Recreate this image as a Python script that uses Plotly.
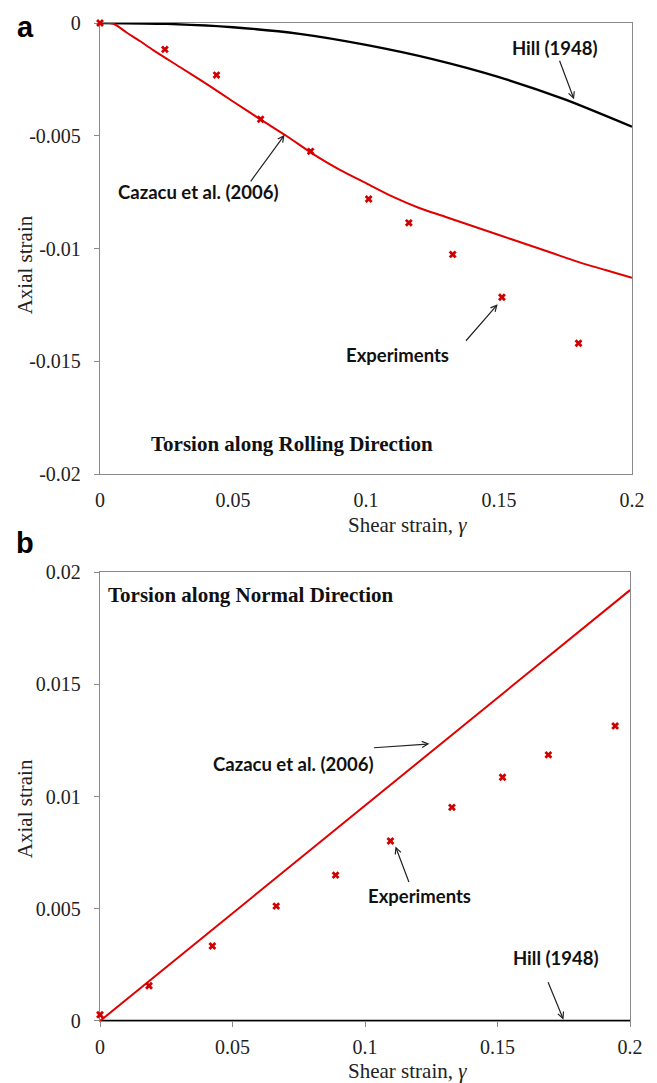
import plotly.graph_objects as go

# ---- Torsion along rolling direction (panel a) ----
gamma_exp_a = [0, 0.0244, 0.0438, 0.0604, 0.0792, 0.101, 0.1161, 0.1326, 0.1511, 0.1799]
strain_exp_a = [0, -0.00117, -0.00231, -0.00427, -0.00569, -0.0078, -0.00886, -0.01026, -0.01216, -0.0142]

gamma_caz_a = [0, 0.005, 0.01, 0.015, 0.02, 0.03, 0.04, 0.05, 0.06, 0.07, 0.08, 0.09,
               0.1, 0.11, 0.12, 0.13, 0.14, 0.15, 0.16, 0.17, 0.18, 0.19, 0.2]
strain_caz_a = [0, -0.00003, -0.00042, -0.0008, -0.0012, -0.00195, -0.0027, -0.00348, -0.00425,
                -0.0050, -0.0058, -0.0065, -0.0071, -0.0077, -0.0082, -0.0086, -0.0090,
                -0.0094, -0.0098, -0.0102, -0.0106, -0.01095, -0.0113]

gamma_hill_a = [0, 0.025, 0.05, 0.075, 0.1, 0.125, 0.15, 0.175, 0.2]
strain_hill_a = [0, -0.00004, -0.00019, -0.00048, -0.00097, -0.0016, -0.0024, -0.0034, -0.0046]

# ---- Torsion along normal direction (panel b) ----
gamma_exp_b = [0, 0.0185, 0.0424, 0.0665, 0.0889, 0.1096, 0.1328, 0.1519, 0.1692, 0.1944]
strain_exp_b = [0.00028, 0.00157, 0.00334, 0.00512, 0.0065, 0.00802, 0.00952, 0.01086, 0.01186, 0.01315]

gamma_caz_b = [0, 0.2]
strain_caz_b = [0, 0.0192]

gamma_hill_b = [0, 0.2]
strain_hill_b = [0, 0]

x_ticks = [0, 0.05, 0.1, 0.15, 0.2]
x_ticktext = ["0", "0.05", "0.1", "0.15", "0.2"]
ya_ticks = [0, -0.005, -0.01, -0.015, -0.02]
ya_ticktext = ["0", "-0.005", "-0.01", "-0.015", "-0.02"]
yb_ticks = [0, 0.005, 0.01, 0.015, 0.02]
yb_ticktext = ["0", "0.005", "0.01", "0.015", "0.02"]

RED = "#e00000"
MARK = "#d00000"
GRAY = "#8a8a8a"
SERIF = "Liberation Serif"
SANS = "Lato"

fig = go.Figure()

def add_panel(xa, ya, gx, gy, cx, cy, hx, hy):
    fig.add_trace(go.Scatter(x=hx, y=hy, mode="lines",
                             line=dict(color="black", width=2.4, shape="spline", smoothing=0.6),
                             xaxis=xa, yaxis=ya, cliponaxis=False, showlegend=False))
    fig.add_trace(go.Scatter(x=cx, y=cy, mode="lines",
                             line=dict(color=RED, width=2, shape="spline", smoothing=0.8),
                             xaxis=xa, yaxis=ya, cliponaxis=False, showlegend=False))
    fig.add_trace(go.Scatter(x=gx, y=gy, mode="markers",
                             marker=dict(symbol="x", size=7, color=MARK, line=dict(width=0)),
                             xaxis=xa, yaxis=ya, cliponaxis=False, showlegend=False))

add_panel("x", "y", gamma_exp_a, strain_exp_a, gamma_caz_a, strain_caz_a, gamma_hill_a, strain_hill_a)
add_panel("x2", "y2", gamma_exp_b, strain_exp_b, gamma_caz_b, strain_caz_b, gamma_hill_b, strain_hill_b)

tickfont = dict(family=SERIF, size=20, color="#222222")
common_x = dict(range=[0, 0.2], tickvals=x_ticks, ticktext=x_ticktext, tickfont=tickfont,
                showgrid=False, zeroline=False, showline=True, linecolor=GRAY, linewidth=1.3,
                mirror=True, layer="below traces", fixedrange=True)
common_y = dict(showgrid=False, zeroline=False, showline=True, linecolor=GRAY, linewidth=1.3,
                mirror=True, ticks="outside", ticklen=5, tickcolor=GRAY, tickfont=tickfont,
                ticklabelstandoff=9, layer="below traces", fixedrange=True)

fig.update_layout(
    width=657, height=1083,
    margin=dict(l=100, r=24, t=19, b=62),
    paper_bgcolor="white", plot_bgcolor="white",
    xaxis=dict(**common_x, domain=[0, 1], anchor="y", ticks="", ticklabelstandoff=8),
    xaxis3=dict(range=[0, 0.2], tickvals=x_ticks, overlaying="x", side="top", anchor="y",
                ticks="inside", ticklen=5, tickcolor=GRAY, showticklabels=False,
                showgrid=False, zeroline=False, showline=False, fixedrange=True),
    yaxis=dict(**common_y, domain=[0.548, 1], range=[-0.02, 0], tickvals=ya_ticks,
               ticktext=ya_ticktext, anchor="x"),
    xaxis2=dict(**common_x, domain=[0, 0.99625], anchor="y2", ticks="outside", ticklen=5,
                tickcolor=GRAY, ticklabelstandoff=3),
    xaxis4=dict(range=[0, 0.2], tickvals=x_ticks, overlaying="x2", side="bottom", anchor="y2",
                ticks="inside", ticklen=5, tickcolor=GRAY, showticklabels=False,
                showgrid=False, zeroline=False, showline=False, fixedrange=True),
    yaxis2=dict(**common_y, domain=[0, 0.4497], range=[0, 0.02], tickvals=yb_ticks,
                ticktext=yb_ticktext, anchor="x2"),
)

label_font = dict(family=SANS, size=18.5, color="#111111")
note_font = dict(family=SERIF, size=21, color="#111111")

def note(x, y, xr, yr, text, font):
    return dict(x=x, y=y, xref=xr, yref=yr, text=text, showarrow=False, font=font,
                xanchor="center", yanchor="middle")

annotations = [
    # panel a labels
    note(0.1709, -0.00113, "x", "y", "<b>Hill (1948)</b>", label_font),
    note(0.0369, -0.00749, "x", "y", "<b>Cazacu et al. (2006)</b>", label_font),
    note(0.1118, -0.01474, "x", "y", "<b>Experiments</b>", label_font),
    note(0.0720, -0.01866, "x", "y", "<b>Torsion along Rolling Direction</b>", note_font),
    # panel b labels
    note(0.0569, 0.0190, "x2", "y2", "<b>Torsion along Normal Direction</b>", note_font),
    note(0.0727, 0.01146, "x2", "y2", "<b>Cazacu et al. (2006)</b>", label_font),
    note(0.1205, 0.00556, "x2", "y2", "<b>Experiments</b>", label_font),
    note(0.1720, 0.0028, "x2", "y2", "<b>Hill (1948)</b>", label_font),
]

arrows = [
    ("x", "y", 0.1782, -0.00338, -15, -40),
    ("x", "y", 0.0694, -0.00496, -35, 48),
    ("x", "y", 0.1495, -0.01247, -33, 38),
    ("x2", "y2", 0.1243, 0.01235, -57, 4),
    ("x2", "y2", 0.1115, 0.00778, 14, 37),
    ("x2", "y2", 0.1749, 0.00006, -16, -39),
]
for xr, yr, hx, hy, ax, ay in arrows:
    annotations.append(dict(x=hx, y=hy, xref=xr, yref=yr, ax=ax, ay=ay, text="", showarrow=True,
                            arrowhead=5, arrowsize=1, arrowwidth=1.2, arrowcolor="#222222"))

title_font = dict(family=SERIF, size=21, color="#222222")
panel_font = dict(family="Liberation Sans", size=29, color="black")
annotations += [
    note(-0.1407, 0.9958, "paper", "paper", "<b>a</b>", panel_font),
    note(-0.1407, 0.4793, "paper", "paper", "<b>b</b>", panel_font),
    dict(note(-0.1417, 0.7578, "paper", "paper", "Axial strain", title_font), textangle=-90),
    dict(note(-0.1417, 0.2129, "paper", "paper", "Axial strain", title_font), textangle=-90),
    note(0.578, 0.4973, "paper", "paper", "Shear strain, <i>γ</i>", title_font),
    note(0.578, -0.0506, "paper", "paper", "Shear strain, <i>γ</i>", title_font),
]
fig.update_layout(annotations=annotations)

fig.write_html("out.html")
